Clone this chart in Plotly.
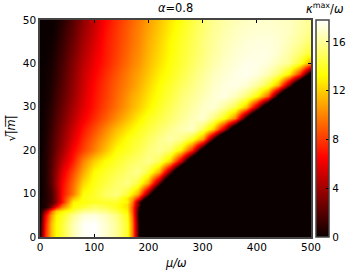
import plotly.graph_objects as go

mu_values = [0, 10, 20, 30, 40, 60, 80, 100, 120, 140, 160, 170, 180, 200, 220, 240, 260, 280, 300, 320, 340, 360, 380, 400, 420, 440, 460, 480, 500]
sqrt_m_values = [0, 3, 5, 6, 7, 7.5, 8, 9, 10, 12.5, 15, 17.5, 20, 22.5, 25, 27.5, 30, 32.5, 35, 37.5, 40, 42.5, 45, 47.5, 50]
# Negative entries sit in the black region beyond the sharp edge (clipped by zmin).
kappa_rows = [
    [1, 7.5, 11.5, 13.3, 14.3, 16.5, 17.6, 17.8, 17, 16, 14, 10, 1.5, -10],
    [.5, 7, 11.5, 13.3, 14.3, 16.5, 17.6, 17.8, 17, 16, 14, 10, 1.5, -10],
    [0, 6, 10.5, 13, 13.8, 15.8, 17, 17.2, 16.6, 15.6, 13.6, 9.5, 1, -10],
    [0, 3.5, 9, 12, 13, 14.4, 15.8, 16, 15.6, 14.6, 13, 9, 1.2, -10],
    [0, .5, 3, 7, 10, 13.4, 14.2, 15, 14.7, 13.8, 12.5, 9, 2, -8],
    [0, .5, 2, 4.5, 8.5, 13.2, 13.8, 14.5, 14.2, 13.8, 12.5, 9.5, 3, -7],
    [0, .5, 1.5, 3.5, 7, 13, 13.5, 13.8, 14, 14, 13, 10, 3, -7.5, -17.5],
    [0, .5, 1.5, 3.5, 7, 11.5, 13.6, 14, 14.6, 14.8, 12.8, 11, 7.5, -2.5, -12.5],
    [0, .5, 1.5, 3.5, 6.8, 9.8, 13.4, 14, 15, 15.5, 14.3, 12.8, 11, 2.5, -7.5, -17.5],
    [0, .5, 2, 4, 6.5, 9.3, 12.2, 13.7, 14.4, 15.1, 15.6, 15.2, 14.3, 11, 2.5, -7.5, -17.5],
    [0, .5, 2, 3.6, 5.8, 8.5, 11, 13.3, 14, 14.6, 15.2, 15.5, 15.8, 14.3, 11, 2.5, -7.5, -17.5],
    [0, .5, 1.8, 3.2, 4.8, 7.3, 10, 12, 13.3, 14, 14.7, 15, 15.2, 15.8, 14.8, 12, 5, -5, -15],
    [0, .5, 1.6, 2.7, 4, 6.5, 8.2, 9.9, 11.6, 13.3, 13.9, 14.2, 14.6, 15.4, 15.9, 15.2, 12.8, 7.5, -2.5, -12.5, -22.5],
    [0, .4, 1.4, 2.4, 3.5, 5.7, 7.6, 9.2, 10.8, 12.3, 13.5, 13.9, 14.2, 14.9, 15.7, 16.3, 15.7, 13.9, 10.4, 1, -9, -19],
    [0, .3, 1.2, 2.2, 3.2, 5.2, 7, 8.5, 10, 11.5, 12.6, 13.1, 13.7, 14.4, 15.1, 15.8, 16.4, 16.8, 14.8, 12, 5, -5, -15],
    [0, .3, 1, 1.9, 2.8, 4.6, 6.2, 7.6, 8.9, 10.2, 11.5, 12.1, 12.8, 13.8, 14.5, 15.2, 15.9, 16.5, 17, 15.6, 13.6, 10, 0, -10, -20],
    [0, .2, .8, 1.6, 2.5, 4.2, 5.7, 7.1, 8.3, 9.5, 10.7, 11.3, 11.9, 13, 14, 14.8, 15.6, 16.2, 16.8, 17.1, 16, 14.6, 11.6, 4, -6, -16],
    [0, .1, .6, 1.4, 2.2, 3.8, 5.4, 6.9, 8, 9.2, 10.4, 11, 11.5, 12.6, 13.6, 14.4, 15.3, 15.9, 16.5, 17, 17.3, 16.6, 15.4, 13.3, 9, -1, -11, -21],
    [0, .1, .5, 1.2, 2, 3.6, 5.2, 6.7, 7.9, 9, 10, 10.5, 11.1, 12.2, 13.3, 14.1, 14.9, 15.6, 16.2, 16.8, 17.2, 17.4, 17, 16, 14.4, 11.2, 3, -7, -17],
    [0, .1, .4, 1, 1.8, 3.4, 5, 6.4, 7.6, 8.7, 9.8, 10.3, 10.8, 11.8, 12.9, 13.7, 14.5, 15.3, 16, 16.6, 17, 17.3, 17.5, 17.2, 16.4, 15.2, 12.8, 7.5, -2.5],
    [0, 0, .3, .9, 1.6, 3.2, 4.7, 6.1, 7.2, 8.3, 9.4, 9.9, 10.4, 11.5, 12.5, 13.5, 14.2, 15, 15.7, 16.3, 16.8, 17.1, 17.4, 17.4, 17.1, 16.5, 15.8, 14, 10.6],
    [0, 0, .2, .7, 1.4, 2.9, 4.4, 5.8, 7.1, 8.1, 9.2, 9.7, 10.2, 11.3, 12.3, 13.3, 14.1, 14.8, 15.5, 16.1, 16.6, 17, 17.2, 17.3, 17.3, 16.9, 16.2, 15.2, 14],
    [0, 0, .1, .5, 1.2, 2.6, 4.1, 5.5, 7, 8, 9, 9.5, 10, 11.1, 12.1, 13.2, 14, 14.7, 15.5, 16, 16.5, 16.8, 17.1, 17.2, 17.2, 17, 16.5, 15.9, 15],
    [0, 0, 0, .3, 1, 2.3, 3.8, 5.2, 6.8, 7.9, 8.9, 9.4, 9.9, 10.9, 11.9, 12.9, 13.8, 14.6, 15.3, 15.9, 16.3, 16.7, 16.9, 17, 17, 16.9, 16.7, 16.2, 15.6],
    [0, 0, 0, .2, .7, 2, 3.5, 5, 6.6, 7.7, 8.7, 9.2, 9.7, 10.7, 11.7, 12.7, 13.6, 14.4, 15.2, 15.8, 16.2, 16.5, 16.7, 16.9, 16.9, 16.8, 16.7, 16.3, 15.8],
]
colorbar_ticks = [0, 4, 8, 12, 16]
x_ticks = [0, 100, 200, 300, 400, 500]
y_ticks = [0, 10, 20, 30, 40, 50]

z_grid = [row + [-40] * (len(mu_values) - len(row)) for row in kappa_rows]

hot = [[0, "rgb(11,0,0)"], [0.365, "rgb(255,0,0)"], [0.746, "rgb(255,255,0)"], [1, "rgb(255,255,255)"]]
FONT = dict(family="DejaVu Sans", size=10.5, color="black")

fig = go.Figure(go.Heatmap(
    x=mu_values, y=sqrt_m_values, z=z_grid, zmin=0, zmax=17.8, colorscale=hot, zsmooth="best",
    colorbar=dict(x=1.018, xanchor="left", xpad=0, ypad=0, y=0, yanchor="bottom", len=1, lenmode="fraction",
                  thickness=13, thicknessmode="pixels", tickvals=colorbar_ticks, ticks="inside", ticklen=3,
                  tickcolor="black", outlinecolor="#444", outlinewidth=1.5, tickfont=FONT),
))
axis = dict(ticks="inside", ticklen=3, tickcolor="black", mirror="ticks", showline=True, linecolor="#444",
            linewidth=1.5, showgrid=False, zeroline=False, tickfont=FONT)
fig.update_xaxes(axis, range=[0, 500], tickvals=x_ticks)
fig.update_yaxes(axis, range=[0, 50], tickvals=y_ticks)
fig.update_layout(
    width=348, height=270, margin=dict(l=40, r=37, t=20, b=33, autoexpand=False), paper_bgcolor="white", plot_bgcolor="black",
    font=FONT,
    annotations=[
        dict(text="<i>α</i>=0.8", x=0.5, y=1, xref="paper", yref="paper", xanchor="center", yanchor="bottom", yshift=3, showarrow=False, font=dict(FONT, size=11.4)),
        dict(text="<i>κ</i><sup>max</sup>/<i>ω</i>", x=1.052, y=1, xref="paper", yref="paper", xanchor="center", yanchor="bottom", yshift=2, showarrow=False, font=dict(FONT, size=11.4)),
        dict(text="<i>μ/ω</i>", x=0.5, y=0, xref="paper", yref="paper", xanchor="center", yanchor="top", yshift=-17, showarrow=False, font=dict(FONT, size=11.4)),
        dict(text="√|\u0305<i>m\u0305</i>|\u0305", x=0, y=0.5, xref="paper", yref="paper", xanchor="right", yanchor="middle", xshift=-21, textangle=-90, showarrow=False, font=dict(FONT, size=11.4)),
    ],
)
fig.write_html("out.html", config={"displayModeBar": False}, post_script="document.body.style.margin='0';document.documentElement.style.overflow='hidden';")
